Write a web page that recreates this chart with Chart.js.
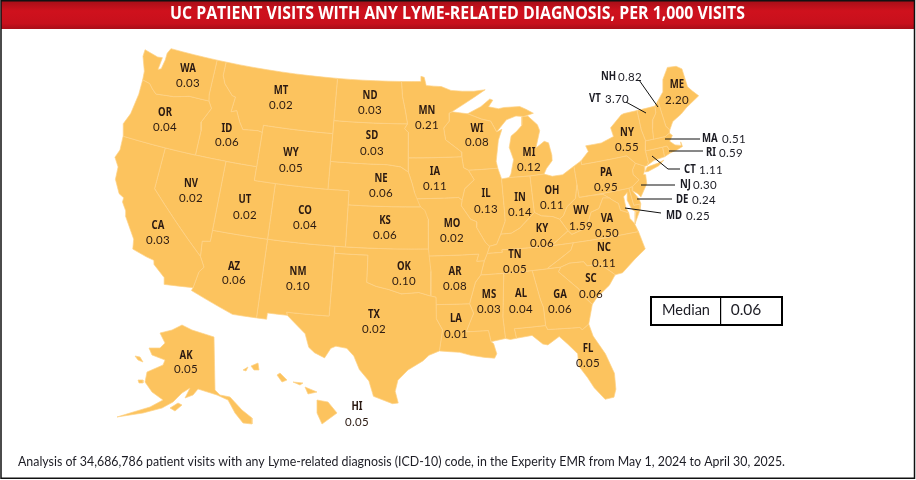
<!DOCTYPE html>
<html>
<head>
<meta charset="utf-8">
<title>UC patient visits with any Lyme-related diagnosis</title>
<script src="https://cdn.jsdelivr.net/npm/chart.js@4/dist/chart.umd.js"></script>
<style>
  html, body { margin: 0; padding: 0; background: #fff; }
  canvas { display: block; }
</style>
</head>
<body>
<canvas id="mapa" width="916" height="480"></canvas>
<script>
// --- Data ---
const titleText = "UC PATIENT VISITS WITH ANY LYME-RELATED DIAGNOSIS, PER 1,000 VISITS";
const footText = "Analysis of 34,686,786 patient visits with any Lyme-related diagnosis (ICD-10) code, in the Experity EMR from May 1, 2024 to April 30, 2025.";
const medianLabel = "Median";
const medianValue = "0.06";

const insideCodes = ["WA","OR","CA","NV","ID","MT","WY","UT","CO","AZ","NM","ND","SD","NE","KS","OK","TX","MN","IA","MO","AR","LA","WI","IL","IN","OH","MI","KY","WV","VA","TN","NC","SC","GA","AL","MS","FL","PA","NY","ME","AK","HI"];
const insideRates = ["0.03","0.04","0.03","0.02","0.06","0.02","0.05","0.02","0.04","0.06","0.10","0.03","0.03","0.06","0.06","0.10","0.02","0.21","0.11","0.02","0.08","0.01","0.08","0.13","0.14","0.11","0.12","0.06","1.59","0.50","0.05","0.11","0.06","0.06","0.04","0.03","0.05","0.95","0.55","2.20","0.05","0.05"];
const calloutCodes = ["NH","VT","MA","RI","CT","NJ","DE","MD"];
const calloutRates = ["0.82","3.70","0.51","0.59","1.11","0.30","0.24","0.25"];

// State outlines in [longitude, latitude]
const outlineWA = [[-124.7,48.4],[-123.2,48.15],[-122.7,48.2],[-122.8,47.3],[-122.5,47.4],[-122.35,48.1],[-122.35,48.6],[-122.1,49],[-117.03,49],[-117.04,46.42],[-116.92,45.99],[-118.98,46],[-119.3,45.93],[-120.5,45.7],[-121.2,45.65],[-122.3,45.55],[-122.8,45.85],[-123.2,46.15],[-124,46.27],[-124.1,46.9],[-124.7,47.9]];
const outlineOR = [[-124,46.27],[-123.2,46.15],[-122.8,45.85],[-122.3,45.55],[-121.2,45.65],[-120.5,45.7],[-119.3,45.93],[-118.98,46],[-116.92,45.99],[-116.5,45.5],[-117.2,44.4],[-117.03,43.8],[-117.03,42],[-124.2,42],[-124.55,42.85],[-124.15,43.7],[-123.95,45.2]];
const outlineCA = [[-124.2,42],[-120,42],[-120,39],[-114.63,35],[-114.15,34.3],[-114.5,33.9],[-114.72,32.72],[-117.12,32.53],[-117.3,33],[-118.4,33.75],[-118.5,34.03],[-119.2,34.15],[-120.5,34.45],[-120.65,35.15],[-121.9,36.6],[-122,36.95],[-122.5,37.5],[-122.5,37.8],[-123,38],[-123.7,38.9],[-123.8,39.8],[-124.35,40.4],[-124.1,41]];
const outlineNV = [[-120,42],[-114.04,42],[-114.04,36.2],[-114.75,36.1],[-114.63,35],[-120,39]];
const outlineID = [[-117.03,49],[-116.05,49],[-116.05,48],[-115.7,47.45],[-114.7,46.7],[-114.35,46.65],[-114.5,45.55],[-113.95,45.7],[-113.45,44.95],[-113,44.45],[-111.5,44.55],[-111.05,44.48],[-111.05,42],[-117.03,42],[-117.03,43.8],[-117.2,44.4],[-116.5,45.5],[-116.92,45.99],[-117.04,46.42]];
const outlineMT = [[-116.05,49],[-104.05,49],[-104.05,45],[-111.05,45],[-111.05,44.48],[-111.5,44.55],[-113,44.45],[-113.45,44.95],[-113.95,45.7],[-114.5,45.55],[-114.35,46.65],[-114.7,46.7],[-115.7,47.45],[-116.05,48]];
const outlineWY = [[-111.05,45],[-104.05,45],[-104.05,41],[-111.05,41]];
const outlineUT = [[-114.04,42],[-111.05,42],[-111.05,41],[-109.05,41],[-109.05,37],[-114.04,37]];
const outlineCO = [[-109.05,41],[-102.05,41],[-102.05,37],[-109.05,37]];
const outlineAZ = [[-114.04,37],[-109.05,37],[-109.05,31.33],[-111.07,31.33],[-114.81,32.5],[-114.72,32.72],[-114.5,33.9],[-114.15,34.3],[-114.63,35],[-114.75,36.1],[-114.04,36.2]];
const outlineNM = [[-109.05,37],[-103,37],[-103.04,32],[-106.62,32],[-106.53,31.78],[-108.2,31.78],[-108.2,31.33],[-109.05,31.33]];
const outlineND = [[-104.05,49],[-97.23,49],[-97.1,47.9],[-96.8,46.9],[-96.56,45.94],[-104.05,45.94]];
const outlineSD = [[-104.05,45.94],[-96.56,45.94],[-96.85,45.6],[-96.45,45.3],[-96.45,42.49],[-97.2,42.85],[-98.5,42.99],[-104.05,43]];
const outlineNE = [[-104.05,43],[-98.5,42.99],[-97.2,42.85],[-96.45,42.49],[-96.1,41.7],[-95.85,41],[-95.31,40],[-102.05,40],[-102.05,41],[-104.05,41]];
const outlineKS = [[-102.05,40],[-95.31,40],[-94.9,39.75],[-94.6,39.1],[-94.62,37],[-102.05,37]];
const outlineOK = [[-103,37],[-94.62,37],[-94.43,35.4],[-94.48,33.64],[-95.5,33.9],[-97,33.8],[-98.1,34.1],[-99.2,34.3],[-100,34.56],[-100,36.5],[-103,36.5]];
const outlineTX = [[-103,36.5],[-100,36.5],[-100,34.56],[-99.2,34.3],[-98.1,34.1],[-97,33.8],[-95.5,33.9],[-94.48,33.64],[-94.04,33.55],[-94.04,32],[-93.55,31.2],[-93.85,29.7],[-94.7,29.4],[-95.2,29],[-96.4,28.35],[-97.2,27.6],[-97.4,26.8],[-97.15,25.95],[-97.6,25.9],[-99.1,26.4],[-99.5,27.5],[-100.3,28.3],[-100.8,29.25],[-101.4,29.77],[-102.3,29.88],[-102.7,29.7],[-103.15,28.98],[-104,29.3],[-104.5,29.65],[-104.9,30.6],[-106.53,31.78],[-106.62,32],[-103.04,32]];
const outlineMN = [[-97.23,49],[-95.15,49],[-95.15,49.38],[-94.8,49.3],[-94.6,48.7],[-93,48.6],[-92,48.3],[-90.8,48.2],[-89.6,48.15],[-88.4,48.2],[-92,46.75],[-92.3,46.66],[-92.3,46.1],[-92.9,45.6],[-92.75,44.75],[-91.25,43.85],[-91.22,43.5],[-96.45,43.5],[-96.45,45.3],[-96.85,45.6],[-96.56,45.94],[-96.8,46.9],[-97.1,47.9]];
const outlineIA = [[-96.45,43.5],[-91.22,43.5],[-91.1,42.7],[-90.65,42.5],[-90.15,41.8],[-91.1,41.2],[-91.4,40.4],[-91.7,40.6],[-95.75,40.58],[-95.85,41],[-96.1,41.7],[-96.45,42.49]];
const outlineMO = [[-95.75,40.58],[-91.7,40.6],[-91.4,40.4],[-91.5,40],[-90.7,39],[-90.15,38.8],[-90.2,38.4],[-89.5,37.3],[-89.15,37],[-89.4,36.5],[-89.7,36],[-90.37,36],[-90.15,36.5],[-94.62,36.5],[-94.62,37],[-94.6,39.1],[-95.31,40]];
const outlineAR = [[-94.62,36.5],[-90.15,36.5],[-90.37,36],[-89.7,36],[-90.1,35],[-90.6,34.5],[-91.2,33],[-94.04,33.02],[-94.04,33.55],[-94.48,33.64],[-94.43,35.4]];
const outlineLA = [[-94.04,33.02],[-91.2,33],[-90.9,32.3],[-91.6,31],[-89.75,31],[-89.6,30.2],[-89.4,30.05],[-89.2,29.3],[-89.4,29],[-90.2,29.1],[-91.3,29.3],[-92.2,29.55],[-93.85,29.7],[-93.55,31.2],[-94.04,32]];
const outlineMS = [[-90.1,35],[-88.2,35],[-88.1,34.9],[-88.47,31.9],[-88.4,30.35],[-89.6,30.2],[-89.75,31],[-91.6,31],[-90.9,32.3],[-91.2,33],[-90.6,34.5]];
const outlineAL = [[-88.2,35],[-85.6,35],[-85.18,32.87],[-85,32.3],[-85,31],[-87.6,31],[-87.5,30.3],[-88,30.25],[-88.4,30.35],[-88.47,31.9],[-88.1,34.9]];
const outlineGA = [[-85.6,35],[-83.1,35],[-83.35,34.7],[-81.85,33.3],[-81.4,32.6],[-80.9,32.05],[-81.45,30.7],[-82.05,30.36],[-82.2,30.55],[-84.86,30.7],[-85,31],[-85,32.3],[-85.18,32.87]];
const outlineFL = [[-87.6,31],[-85,31],[-84.86,30.7],[-82.2,30.55],[-82.05,30.36],[-81.45,30.7],[-81.25,29.8],[-80.5,28.4],[-80.05,26.9],[-80.15,25.75],[-80.4,25.2],[-81.1,25.15],[-81.8,26.1],[-82.2,26.9],[-82.75,27.8],[-82.7,28.7],[-83.4,29.5],[-84,30.1],[-85,29.6],[-85.4,29.7],[-86.2,30.4],[-87.5,30.3]];
const outlineSC = [[-83.35,34.7],[-83.1,35],[-82.3,35.2],[-81.05,35.15],[-80.8,34.82],[-79.67,34.8],[-78.55,33.86],[-79.2,33.2],[-80.4,32.5],[-80.9,32.05],[-81.4,32.6],[-81.85,33.3]];
const outlineNC = [[-81.68,36.59],[-75.8,36.55],[-75.55,35.25],[-76.6,34.7],[-77.9,33.9],[-78.55,33.86],[-79.67,34.8],[-80.8,34.82],[-81.05,35.15],[-82.3,35.2],[-83.1,35],[-84.32,35],[-82,36.1]];
const outlineTN = [[-89.7,36],[-89.4,36.5],[-88.05,36.5],[-88.07,36.68],[-83.67,36.6],[-81.68,36.59],[-82,36.1],[-84.32,35],[-85.6,35],[-88.2,35],[-90.1,35]];
const outlineKY = [[-89.4,36.5],[-89.15,37],[-88.5,37.1],[-88.05,37.8],[-87.1,37.8],[-86.3,38.1],[-85.4,38.7],[-84.8,39.1],[-84.2,38.8],[-83.2,38.65],[-82.6,38.4],[-82,37.5],[-83.67,36.6],[-88.07,36.68],[-88.05,36.5]];
const outlineVA = [[-83.67,36.6],[-81.68,36.59],[-75.8,36.55],[-76,37.2],[-76.3,37.6],[-76.3,38],[-77,38.3],[-77.05,38.8],[-77.5,39.1],[-77.75,39.3],[-78.35,39.4],[-78.9,38.7],[-79.65,38.55],[-80.3,37.5],[-81.7,37.2],[-82,37.5]];
const outlineVAshore = [[-75.95,37.15],[-75.6,37.6],[-75.25,38.03],[-75.65,37.95]];
const outlineWV = [[-82.6,38.4],[-82,37.5],[-81.7,37.2],[-80.3,37.5],[-79.65,38.55],[-78.9,38.7],[-78.35,39.4],[-77.75,39.3],[-78.3,39.65],[-79.48,39.72],[-80.52,39.72],[-80.52,40.64],[-80.85,39.7],[-81.75,39.2],[-82.2,38.6]];
const outlineOH = [[-84.8,39.1],[-84.8,41.72],[-83.45,41.73],[-82.7,41.5],[-81.7,41.5],[-80.52,41.98],[-80.52,40.64],[-80.85,39.7],[-81.75,39.2],[-82.2,38.6],[-82.6,38.4],[-83.2,38.65],[-84.2,38.8]];
const outlineIN = [[-87.53,41.72],[-86.8,41.76],[-84.8,41.72],[-84.8,39.1],[-85.4,38.7],[-86.3,38.1],[-87.1,37.8],[-88.05,37.8],[-87.55,38.7],[-87.53,39.35]];
const outlineIL = [[-90.65,42.5],[-87.8,42.5],[-87.53,41.72],[-87.53,39.35],[-87.55,38.7],[-88.05,37.8],[-88.5,37.1],[-89.15,37],[-89.5,37.3],[-90.2,38.4],[-90.15,38.8],[-90.7,39],[-91.5,40],[-91.4,40.4],[-91.1,41.2],[-90.15,41.8]];
const outlineWI = [[-92,46.75],[-90.4,46.55],[-89,46.1],[-88.1,45.9],[-87.6,45.1],[-87.05,45.25],[-87.5,44.5],[-87.9,43],[-87.8,42.5],[-90.65,42.5],[-91.1,42.7],[-91.22,43.5],[-91.25,43.85],[-92.75,44.75],[-92.9,45.6],[-92.3,46.1],[-92.3,46.66]];
const outlineMIlower = [[-86.8,41.76],[-84.8,41.72],[-83.45,41.73],[-83.15,42.1],[-82.5,42.6],[-82.45,43],[-82.6,43.9],[-83,44.05],[-83.9,43.65],[-83.3,44.85],[-83.45,45.3],[-84.3,46],[-84.9,46],[-85,45.4],[-85.6,45],[-86.2,44.7],[-86.5,43.9],[-86.2,43],[-86.6,42]];
const outlineMIupper = [[-90.4,46.55],[-89,47],[-88,47.5],[-87.7,47.4],[-88.2,46.95],[-87.2,46.75],[-86.6,46.8],[-85,46.75],[-84.4,46.5],[-83.7,46.15],[-84.7,46],[-85.5,46.1],[-86.5,45.9],[-87.6,45.1],[-88.1,45.9],[-89,46.1]];
const outlinePA = [[-80.52,41.98],[-79.76,42.27],[-79.76,42],[-75.35,42],[-74.7,41.36],[-75.1,40.95],[-75.15,40.6],[-74.72,40.15],[-75.42,39.8],[-75.8,39.72],[-80.52,39.72]];
const outlineNY = [[-79.76,42.27],[-78.9,42.85],[-79.05,43.27],[-77.5,43.27],[-76.2,43.55],[-76.3,44.2],[-75,44.95],[-74.7,45],[-73.35,45],[-73.4,43.6],[-73.25,42.75],[-73.5,42.05],[-73.49,41.2],[-73.7,41],[-73.9,41],[-74.7,41.36],[-75.35,42],[-79.76,42]];
const outlineLI = [[-74,40.6],[-73.7,40.9],[-72.6,41],[-72,41.1],[-72.6,40.8],[-73.7,40.58]];
const outlineVT = [[-73.35,45],[-71.5,45],[-71.6,44.5],[-72.05,44.1],[-72.3,43.5],[-72.46,42.73],[-73.25,42.75],[-73.4,43.6]];
const outlineNH = [[-71.5,45],[-71.08,45.3],[-70.98,43.4],[-70.7,43.07],[-70.82,42.87],[-71.3,42.7],[-72.46,42.73],[-72.3,43.5],[-72.05,44.1],[-71.6,44.5]];
const outlineME = [[-71.08,45.3],[-70.4,45.8],[-70,46.7],[-69.2,47.45],[-68.3,47.35],[-67.8,47.05],[-67.8,45.7],[-67.45,45.3],[-67,44.85],[-68.5,44.3],[-69.2,43.95],[-70.2,43.6],[-70.7,43.07],[-70.98,43.4]];
const outlineMA = [[-73.5,42.05],[-73.25,42.75],[-72.46,42.73],[-71.3,42.7],[-70.82,42.87],[-70.6,42.65],[-71,42.3],[-70.6,41.95],[-70.05,41.8],[-70,42.05],[-69.95,41.7],[-70.6,41.55],[-71.15,41.5],[-71.38,42.02],[-71.8,42.02]];
const outlineRI = [[-71.8,42.02],[-71.38,42.02],[-71.15,41.5],[-71.85,41.32]];
const outlineCT = [[-73.5,42.05],[-71.8,42.02],[-71.85,41.32],[-72.9,41.25],[-73.7,41],[-73.49,41.2]];
const outlineNJ = [[-74.7,41.36],[-73.9,41],[-74,40.7],[-74.2,40.45],[-74,40.4],[-74.1,39.75],[-74.9,38.93],[-75.1,39.2],[-75.55,39.5],[-75.42,39.8],[-74.72,40.15],[-75.15,40.6],[-75.1,40.95]];
const outlineDE = [[-75.8,39.72],[-75.42,39.8],[-75.55,39.5],[-75.1,38.8],[-75.05,38.45],[-75.7,38.46]];
const outlineMD = [[-79.48,39.72],[-75.8,39.72],[-75.7,38.46],[-75.05,38.45],[-75.25,38.03],[-75.65,37.95],[-75.95,38.2],[-76.2,38.9],[-76.05,39.45],[-76.45,39.2],[-76.45,38.4],[-76.3,38],[-77,38.3],[-77.05,38.8],[-77.5,39.1],[-77.75,39.3],[-78.3,39.65]];

const lower48 = [outlineWA,outlineOR,outlineCA,outlineNV,outlineID,outlineMT,outlineWY,outlineUT,outlineCO,outlineAZ,outlineNM,outlineND,outlineSD,outlineNE,outlineKS,outlineOK,outlineTX,outlineMN,outlineIA,outlineMO,outlineAR,outlineLA,outlineMS,outlineAL,outlineGA,outlineFL,outlineSC,outlineNC,outlineTN,outlineKY,outlineVA,outlineVAshore,outlineWV,outlineOH,outlineIN,outlineIL,outlineWI,outlineMIlower,outlineMIupper,outlinePA,outlineNY,outlineLI,outlineVT,outlineNH,outlineME,outlineMA,outlineRI,outlineCT,outlineNJ,outlineDE,outlineMD];

// Inset shapes, already in picture units
const insetAK = [[182,325],[192,330],[214,337],[215,390],[220,395],[230,397],[242,410],[252,418],[252,424],[243,423],[235,413],[228,400],[217,395],[198,389],[193,395],[185,398],[190,388],[182,393],[173,402],[162,408],[143,413],[117,417],[130,413],[150,407],[163,400],[152,392],[145,382],[147,372],[163,365],[165,360],[152,355],[149,348],[160,348],[165,343],[160,333],[172,330]];
const insetKodiak = [[170,408],[178,403],[182,405],[175,411]];
const insetNunivak = [[135,356],[140,357],[143,362],[138,360]];
const insetStMatthew = [[138,380],[143,380],[143,383],[139,383]];
const insetHawaii = [[317,400],[328,402],[337,413],[322,424],[317,413]];
const insetMaui = [[305,387],[317,392],[308,394]];
const insetMolokai = [[293,382],[303,383],[300,385]];
const insetOahu = [[277,375],[280,373],[287,380],[282,382]];
const insetKauai = [[251,366],[258,363],[259,370],[254,370]];
const insetNiihau = [[243,370],[248,367],[246,371]];
const insets = [insetAK,insetKodiak,insetNunivak,insetStMatthew,insetHawaii,insetMaui,insetMolokai,insetOahu,insetKauai,insetNiihau];

// --- Layout of the annotations (picture pixels) ---
const insideSpots = [[188,69,83],[165,113,127],[158,226,240],[191,184,198],[227,129,142],[281,91,105],[291,153,168],[245,200,215],[305,211,225],[234,267,280],[298,272,286],[370,96,110],[372,136,151],[381,179,193],[385,221,235],[404,267,281],[374,315,329],[427,111,125],[435,172,186],[452,224,238],[455,272,286],[456,319,334],[477,129,142],[486,194,209],[520,198,212],[552,191,205],[529,153,167],[542,229,243],[581,211,226],[607,219,233],[515,255,269],[604,248,263],[591,279,294],[560,295,309],[521,294,309],[489,295,309],[588,349,363],[606,173,187],[627,133,147],[677,85,100],[186,356,369],[357,407,422]];
const calloutSpots = [[601,618,77],[589,605,99],[702,722,139],[706,719,153],[684,699,170],[680,693,185],[676,692,200],[666,686,216]];
const leaderLines = [
  [[639,80],[658,107]],
  [[626,102],[646,113]],
  [[665,139],[700,139]],
  [[669,151],[703,151]],
  [[652,156],[668,169],[680,169]],
  [[641,185],[675,185]],
  [[637,199],[672,199]],
  [[625,208],[661,213]]
];

const colorEstado = "#fcc35e";
const colorLimite = "#fed388";
const colorTexto = "#2b1a12";
const fontCode = "bold 12px 'Noto Sans', sans-serif";
const fontRate = "11.5px Lato, sans-serif";

// Albers conic, fitted to the picture
function albers(lon, lat) {
  const rad = Math.PI / 180;
  const n = (Math.sin(29.5 * rad) + Math.sin(45.5 * rad)) / 2;
  const c = Math.cos(29.5 * rad) ** 2 + 2 * n * Math.sin(29.5 * rad);
  const rho0 = Math.sqrt(c - 2 * n * Math.sin(37.5 * rad)) / n;
  const rho = Math.sqrt(c - 2 * n * Math.sin(lat * rad)) / n;
  const theta = n * (lon + 96) * rad;
  return { x: 413 + 810 * rho * Math.sin(theta), y: 242 - 797 * (rho0 - rho * Math.cos(theta)) };
}

// Long straight borders follow the parallels, so they are split before projecting
function projectShape(shape) {
  const pts = [];
  shape.concat([shape[0]]).forEach((p, i, arr) => {
    if (i > 0) {
      const q = arr[i - 1];
      const steps = Math.ceil(Math.abs(p[0] - q[0]) / 1.5) || 1;
      for (let s = 1; s < steps; s++) {
        pts.push(albers(q[0] + (p[0] - q[0]) * s / steps, q[1] + (p[1] - q[1]) * s / steps));
      }
    }
    pts.push(albers(p[0], p[1]));
  });
  return pts;
}

function insetShape(shape) {
  return shape.concat([shape[0]]).map(p => ({ x: p[0], y: p[1] }));
}

function shapeDataset(points) {
  return {
    data: points,
    showLine: true,
    fill: "shape",
    backgroundColor: colorEstado,
    borderColor: colorLimite,
    borderWidth: 0.7,
    pointRadius: 0,
    tension: 0
  };
}

const mapDatasets = lower48.map(s => shapeDataset(projectShape(s)))
  .concat(insets.map(s => shapeDataset(insetShape(s))));

// The state codes are set narrow in the reference
function drawCode(ctx, code, x, y) {
  ctx.font = fontCode;
  ctx.letterSpacing = "0px";
  ctx.fillText(code, x, y, ctx.measureText(code).width * 0.8);
}

function drawRate(ctx, rate, x, y) {
  ctx.font = fontRate;
  ctx.letterSpacing = "0.3px";
  ctx.fillText(rate, x, y);
  ctx.letterSpacing = "0px";
}

// --- Everything that is not a state shape ---
const annotations = {
  id: "annotations",
  beforeDatasetsDraw(chart) {
    const ctx = chart.ctx;
    ctx.save();
    // red title band
    const band = ctx.createLinearGradient(0, 1, 0, 29);
    band.addColorStop(0, "#a50f18");
    band.addColorStop(0.35, "#cf111d");
    band.addColorStop(0.8, "#c8101c");
    band.addColorStop(1, "#a90e18");
    ctx.fillStyle = band;
    ctx.fillRect(1, 1, 913, 28);
    ctx.restore();
  },
  afterDatasetsDraw(chart) {
    const ctx = chart.ctx;
    ctx.save();

    // frame
    ctx.strokeStyle = "#111";
    ctx.lineWidth = 1.5;
    ctx.strokeRect(1, 0.75, 913.5, 477.5);

    // title
    ctx.fillStyle = "#fff";
    ctx.textAlign = "center";
    ctx.textBaseline = "middle";
    ctx.font = "bold 18px 'Open Sans', sans-serif";
    ctx.fillText(titleText, 457.5, 13.5, 575);

    // labels inside the states
    ctx.fillStyle = colorTexto;
    insideCodes.forEach((code, i) => {
      const spot = insideSpots[i];
      drawCode(ctx, code, spot[0], spot[1]);
      drawRate(ctx, insideRates[i], spot[0], spot[2]);
    });

    // labels with a leader line
    ctx.textAlign = "left";
    ctx.fillStyle = "#1c1c24";
    calloutCodes.forEach((code, i) => {
      const spot = calloutSpots[i];
      drawCode(ctx, code, spot[0], spot[2]);
      drawRate(ctx, calloutRates[i], spot[1], spot[2]);
    });
    ctx.strokeStyle = "#111";
    ctx.lineWidth = 1;
    leaderLines.forEach(line => {
      ctx.beginPath();
      line.forEach((p, i) => i ? ctx.lineTo(p[0], p[1]) : ctx.moveTo(p[0], p[1]));
      ctx.stroke();
    });

    // median box
    ctx.fillStyle = "#fff";
    ctx.fillRect(651, 297, 131, 28);
    ctx.strokeStyle = "#000";
    ctx.lineWidth = 2;
    ctx.strokeRect(651, 297, 131, 28);
    ctx.lineWidth = 1.2;
    ctx.beginPath();
    ctx.moveTo(720.6, 297);
    ctx.lineTo(720.6, 325);
    ctx.stroke();
    ctx.fillStyle = "#1c1c24";
    ctx.textAlign = "center";
    ctx.font = "15.5px Lato, sans-serif";
    ctx.fillText(medianLabel, 686, 310, 48);
    ctx.fillText(medianValue, 746, 310);

    // footnote
    ctx.textAlign = "left";
    ctx.font = "14px Lato, sans-serif";
    ctx.fillText(footText, 18, 461, 767);
    ctx.restore();
  }
};

new Chart(document.getElementById("mapa"), {
  type: "scatter",
  data: { datasets: mapDatasets },
  options: {
    responsive: false,
    animation: false,
    devicePixelRatio: 1,
    layout: { padding: 0 },
    plugins: { legend: { display: false }, tooltip: { enabled: false } },
    scales: {
      x: { type: "linear", display: false, min: 0, max: 916 },
      y: { type: "linear", display: false, min: 0, max: 480, reverse: true }
    }
  },
  plugins: [annotations]
});
</script>
</body>
</html>
